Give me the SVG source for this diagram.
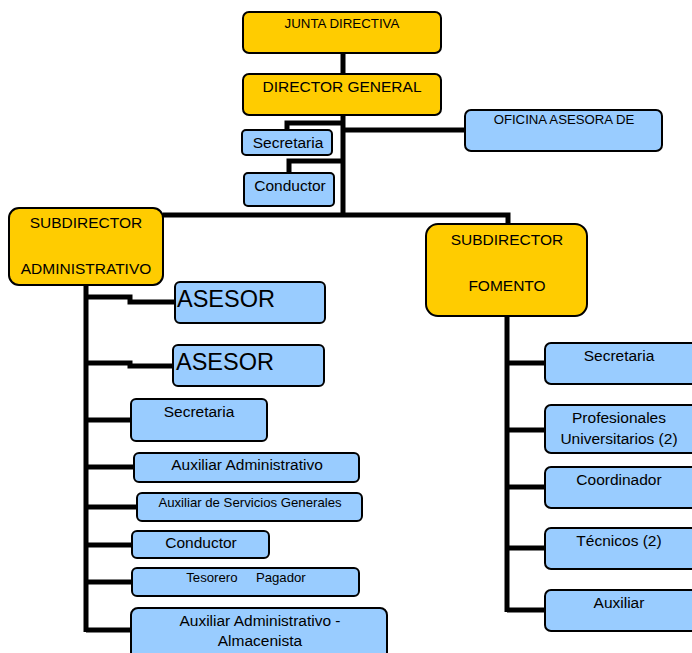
<svg xmlns="http://www.w3.org/2000/svg" width="692" height="653" viewBox="0 0 692 653">
<style>
.y{fill:#FFCC00;stroke:#000;stroke-width:2}
.b{fill:#99CCFF;stroke:#000;stroke-width:2}
.c{fill:none;stroke:#000;stroke-width:5}
text{font-family:"Liberation Sans",Arial,sans-serif;fill:#000;text-anchor:middle}
.s13{font-size:15.5px}.s11{font-size:13.2px}.s22{font-size:23.5px;text-anchor:start}
</style>
<rect width="692" height="653" fill="#fff"/>
<g id="connectors">
<path class="c" d="M343 53V74M343 115V216M343 123H287V130M343 161H289V173M343 130H465M163 215H508V225"/>
<path class="c" d="M86 285V632M86 297H130V302H175M86 363H130V366H173M86 420H131M86 467H134M86 507H137M86 545H132M86 582H132M86 630H131"/>
<path class="c" d="M507 316V612M507 363H545M507 430H545M507 487H545M507 548H545M507 610H545"/>
</g>
<g id="junta"><rect class="y" x="243" y="12" width="198" height="41" rx="6"/><text x="342" y="28" font-size="13.3">JUNTA DIRECTIVA</text></g>
<g id="director"><rect class="y" x="243" y="74" width="198" height="41" rx="6"/><text x="342" y="92" font-size="15.5">DIRECTOR GENERAL</text></g>
<g id="secretaria1"><rect class="b" x="242" y="130" width="90" height="25" rx="4"/><text class="s13" x="288" y="148">Secretaria</text></g>
<g id="conductor1"><rect class="b" x="244" y="173" width="90" height="33" rx="4"/><text class="s13" x="290" y="191">Conductor</text></g>
<g id="oficina"><rect class="b" x="465" y="110" width="197" height="41" rx="6"/><text class="s11" x="564" y="124">OFICINA ASESORA DE</text></g>
<g id="subadmin"><rect class="y" x="9" y="208" width="154" height="77" rx="10"/><text class="s13" x="86" y="228">SUBDIRECTOR</text><text class="s13" x="86" y="274">ADMINISTRATIVO</text></g>
<g id="subfomento"><rect class="y" x="426" y="224" width="161" height="92" rx="12"/><text class="s13" x="507" y="245">SUBDIRECTOR</text><text class="s13" x="507" y="291">FOMENTO</text></g>
<g id="asesor1"><rect class="b" x="175" y="282" width="150" height="41" rx="5"/><text class="s22" x="177" y="307">ASESOR</text></g>
<g id="asesor2"><rect class="b" x="173" y="345" width="151" height="41" rx="5"/><text class="s22" x="176" y="370">ASESOR</text></g>
<g id="secretaria2"><rect class="b" x="131" y="399" width="136" height="42" rx="5"/><text class="s13" x="199" y="417">Secretaria</text></g>
<g id="auxadm"><rect class="b" x="134" y="453" width="225" height="29" rx="5"/><text class="s13" x="247" y="470">Auxiliar Administrativo</text></g>
<g id="auxserv"><rect class="b" x="137" y="493" width="225" height="28" rx="5"/><text class="s11" x="250" y="507">Auxiliar de Servicios Generales</text></g>
<g id="conductor2"><rect class="b" x="132" y="531" width="137" height="27" rx="5"/><text class="s13" x="201" y="548">Conductor</text></g>
<g id="tesorero"><rect class="b" x="132" y="568" width="227" height="28" rx="5"/><text class="s11" x="246" y="582" xml:space="preserve">Tesorero     Pagador</text></g>
<g id="almacenista"><rect class="b" x="131" y="608" width="256" height="60" rx="7"/><text class="s13" x="260" y="626">Auxiliar Administrativo -</text><text class="s13" x="260" y="646">Almacenista</text></g>
<g id="secretaria3"><rect class="b" x="545" y="343" width="152" height="41" rx="6"/><text class="s13" x="619" y="361">Secretaria</text></g>
<g id="profesionales"><rect class="b" x="545" y="405" width="152" height="48" rx="6"/><text class="s13" x="619" y="423">Profesionales</text><text class="s13" x="619" y="444">Universitarios (2)</text></g>
<g id="coordinador"><rect class="b" x="545" y="467" width="152" height="41" rx="6"/><text class="s13" x="619" y="485">Coordinador</text></g>
<g id="tecnicos"><rect class="b" x="545" y="528" width="152" height="41" rx="6"/><text class="s13" x="619" y="546">Técnicos (2)</text></g>
<g id="auxiliar"><rect class="b" x="545" y="590" width="152" height="41" rx="6"/><text class="s13" x="619" y="608">Auxiliar</text></g>
</svg>
